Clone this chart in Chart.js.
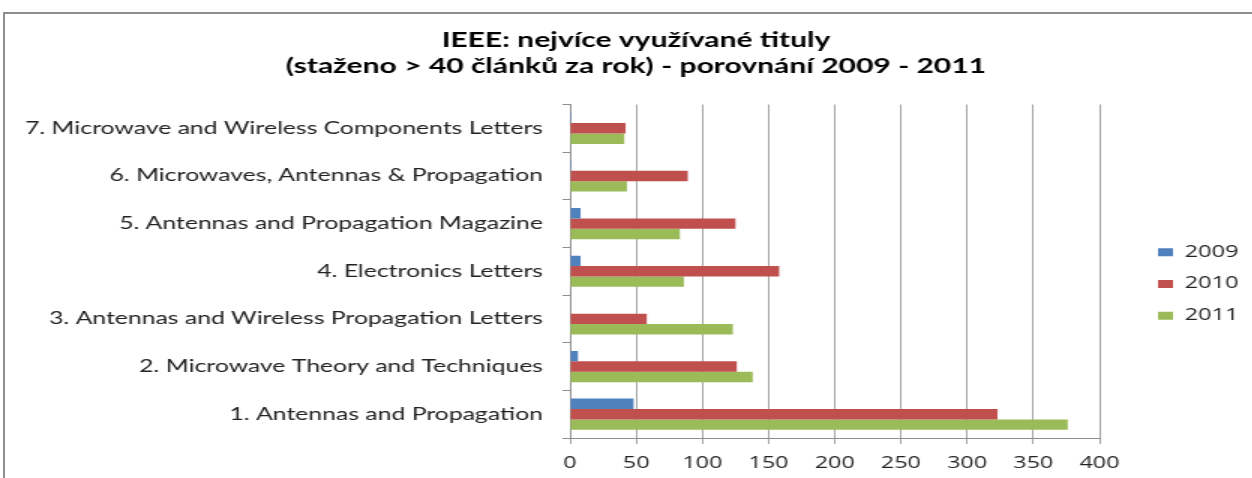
<!DOCTYPE html>
<html>
<head>
<meta charset="utf-8">
<script src="https://cdn.jsdelivr.net/npm/chart.js@4.4.1/dist/chart.umd.min.js"></script>
<style>
  html, body { margin: 0; padding: 0; background: #fff; overflow: hidden; width: 1252px; height: 478px; }
  #frame { position: absolute; left: 3px; top: 12px; width: 1300px; height: 520px;
           border-left: 2px solid #8e8e8e; border-top: 2px solid #8e8e8e; }
  /* the original picture is stretched sideways, so the chart is drawn narrower and scaled */
  #wrap { position: absolute; left: 0; top: 0; width: 840px; height: 478px;
          transform: scaleX(1.5); transform-origin: 0 0; }
</style>
</head>
<body>
<div id="frame"></div>
<div id="wrap"><canvas id="chart" width="840" height="478"></canvas></div>
<script>
// journals, top of the chart first
const categories = [
  '7. Microwave and Wireless Components Letters',
  '6. Microwaves, Antennas & Propagation',
  '5. Antennas and Propagation Magazine',
  '4. Electronics Letters',
  '3. Antennas and Wireless Propagation Letters',
  '2. Microwave Theory and Techniques',
  '1. Antennas and Propagation'
];
const years = ['2009', '2010', '2011'];
const values2009 = [1, 1, 8, 8, 0, 6, 48];
const values2010 = [42, 89, 125, 158, 58, 126, 323];
const values2011 = [41, 43, 83, 86, 123, 138, 376];
const xTicks = [0, 50, 100, 150, 200, 250, 300, 350, 400];
const titleLines = ['IEEE: nejvíce využívané tituly', '(staženo > 40 článků za rok) - porovnání 2009 - 2011'];

const colors = ['#4f81bd', '#c0504d', '#9bbb59'];
const labelFont = { family: 'Lato', size: 16.5 };
const digitFont = { family: 'Open Sans', size: 15.7 };

// place the legend: plot ends at x=733, gap of 23 before the legend box
const W = 840, plotRight = 733, gapW = 23, legPad = 16, boxW = 10;
const m = document.createElement('canvas').getContext('2d');
m.font = digitFont.size + 'px "' + digitFont.family + '"';
const textW = Math.max(...years.map(t => m.measureText(t).width));
const legendW = legPad + 10 + boxW + digitFont.size / 2 + textW;
const padR = Math.max(0, W - plotRight - gapW - legendW);
const padL = 848 - (W - padR); // keeps the title centred where the original has it

const ctx = document.getElementById('chart').getContext('2d');
new Chart(ctx, {
  type: 'bar',
  data: {
    labels: categories,
    datasets: [values2009, values2010, values2011].map((d, i) => ({
      label: years[i], data: d, backgroundColor: colors[i], borderWidth: 0,
      categoryPercentage: 0.655, barPercentage: 1
    }))
  },
  options: {
    indexAxis: 'y',
    responsive: false,
    devicePixelRatio: 1,
    animation: false,
    layout: { padding: { left: padL, right: padR, top: 0, bottom: 0 } },
    plugins: {
      title: {
        display: true, text: titleLines, color: '#000',
        font: { family: 'Lato', size: 20, weight: 'bold', lineHeight: 1.3 },
        padding: { top: 28, bottom: 24.5 }
      },
      legend: {
        position: 'right',
        // empty legend title only pushes the entries down to where the original has them
        title: { display: true, text: '', font: { size: 1, lineHeight: 1 }, padding: { top: 44.5, bottom: 44.5 } },
        labels: { color: '#222', font: digitFont, boxWidth: boxW, boxHeight: 8, padding: legPad }
      },
      tooltip: { enabled: false }
    },
    scales: {
      x: {
        min: 0, max: 400,
        afterBuildTicks: s => { s.ticks = xTicks.map(v => ({ value: v })); },
        afterFit: s => { s.height = 40; },
        grid: { color: '#a3a3a3', lineWidth: 1, tickLength: 6 },
        border: { color: '#8e8e8e' },
        ticks: { color: '#222', font: { family: 'Open Sans', size: 15.5 }, padding: 10, maxRotation: 0 }
      },
      y: {
        afterFit: s => { s.width = 380 - padL; },
        grid: { drawOnChartArea: false, color: '#8e8e8e', tickLength: 5 },
        border: { color: '#8e8e8e' },
        ticks: { color: '#222', font: labelFont, padding: 13, autoSkip: false }
      },
      gap: {
        type: 'category', position: 'right', display: true,
        grid: { display: false }, border: { display: false }, ticks: { display: false },
        afterFit: s => {
          const lw = (s.chart.legend && s.chart.legend.width) || legendW;
          s.width = Math.max(0, s.chart.width - padR - lw - plotRight);
        }
      }
    }
  }
});
</script>
</body>
</html>
